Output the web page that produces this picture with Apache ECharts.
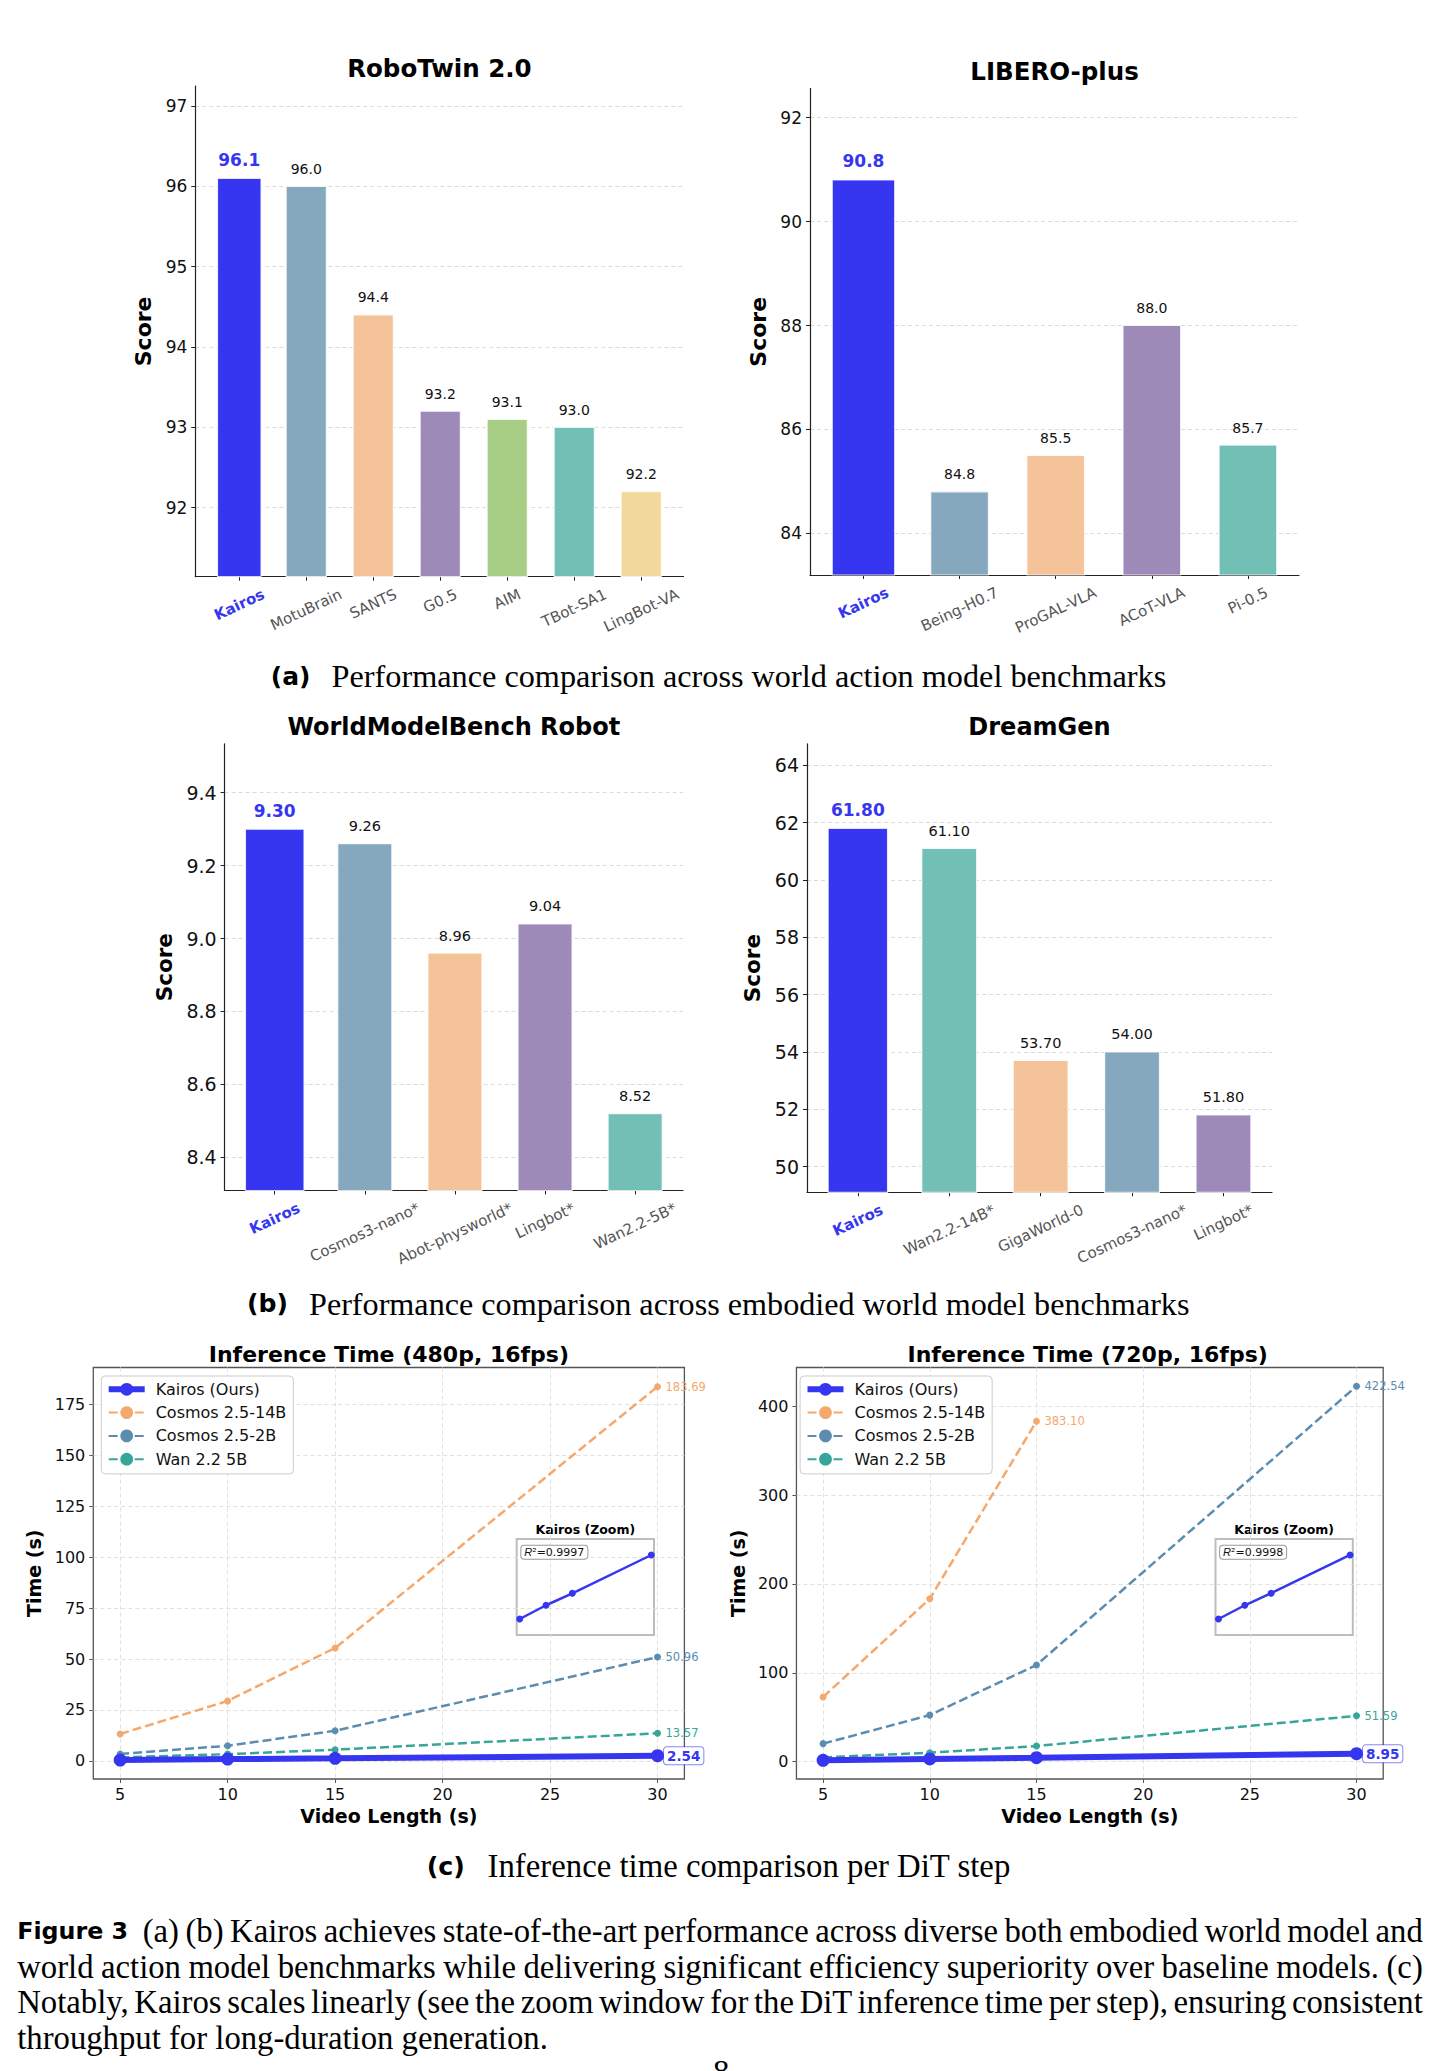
<!DOCTYPE html>
<html>
<head>
<meta charset="utf-8">
<script src="https://cdn.jsdelivr.net/npm/echarts@6/dist/echarts.min.js"></script>
<style>
  html, body { margin: 0; padding: 0; background: #fff; }
  body { width: 1440px; height: 2071px; position: relative; overflow: hidden; }
  .chart { position: absolute; }
  .cap { position: absolute; white-space: nowrap; line-height: 1; color: #000; }
  .lab { font-family: "DejaVu Sans", sans-serif; font-weight: bold; }
  .serif { font-family: "Liberation Serif", serif; }
</style>
</head>
<body>
<div id="robo" class="chart" style="left:0;top:0;width:720px;height:690px"></div>
<div id="libero" class="chart" style="left:720px;top:0;width:720px;height:690px"></div>
<div id="wmb" class="chart" style="left:0;top:690px;width:720px;height:600px"></div>
<div id="dream" class="chart" style="left:720px;top:690px;width:720px;height:600px"></div>
<div id="t480" class="chart" style="left:0;top:1330px;width:720px;height:510px"></div>
<div id="t720" class="chart" style="left:720px;top:1330px;width:720px;height:510px"></div>

<div class="cap lab" id="labA">(a)</div>
<div class="cap serif" id="txtA">Performance comparison across world action model benchmarks</div>
<div class="cap lab" id="labB">(b)</div>
<div class="cap serif" id="txtB">Performance comparison across embodied world model benchmarks</div>
<div class="cap lab" id="labC">(c)</div>
<div class="cap serif" id="txtC">Inference time comparison per DiT step</div>

<div class="cap lab" id="figLab">Figure 3</div>
<div class="cap serif" id="fig1">(a) (b) Kairos achieves state-of-the-art performance across diverse both embodied world model and</div>
<div class="cap serif" id="fig2">world action model benchmarks while delivering significant efficiency superiority over baseline models. (c)</div>
<div class="cap serif" id="fig3">Notably, Kairos scales linearly (see the zoom window for the DiT inference time per step), ensuring consistent</div>
<div class="cap serif" id="fig4">throughput for long-duration generation.</div>
<div class="cap serif" id="pageNo">8</div>

<script>
// ---- data ----
const roboCats = ['Kairos', 'MotuBrain', 'SANTS', 'G0.5', 'AIM', 'TBot-SA1', 'LingBot-VA'];
const roboScores = [96.1, 96.0, 94.4, 93.2, 93.1, 93.0, 92.2];
const roboTicks = [92, 93, 94, 95, 96, 97];

const liberoCats = ['Kairos', 'Being-H0.7', 'ProGAL-VLA', 'ACoT-VLA', 'Pi-0.5'];
const liberoScores = [90.8, 84.8, 85.5, 88.0, 85.7];
const liberoTicks = [84, 86, 88, 90, 92];

const wmbCats = ['Kairos', 'Cosmos3-nano*', 'Abot-physworld*', 'Lingbot*', 'Wan2.2-5B*'];
const wmbScores = [9.30, 9.26, 8.96, 9.04, 8.52];
const wmbTicks = [8.4, 8.6, 8.8, 9.0, 9.2, 9.4];

const dreamCats = ['Kairos', 'Wan2.2-14B*', 'GigaWorld-0', 'Cosmos3-nano*', 'Lingbot*'];
const dreamScores = [61.80, 61.10, 53.70, 54.00, 51.80];
const dreamTicks = [50, 52, 54, 56, 58, 60, 62, 64];

const videoLen = [5, 10, 15, 30];
const lenTicks = [5, 10, 15, 20, 25, 30];
const lineNames = ['Kairos (Ours)', 'Cosmos 2.5-14B', 'Cosmos 2.5-2B', 'Wan 2.2 5B'];

const kairos480 = [0.40, 0.86, 1.26, 2.54];
const cosmos14b480 = [13.2, 29.4, 55.4, 183.69];
const cosmos2b480 = [3.4, 7.4, 14.8, 50.96];
const wan480 = [1.7, 3.3, 5.5, 13.57];
const time480Ticks = [0, 25, 50, 75, 100, 125, 150, 175];

const kairos720 = [1.5, 3.1, 4.5, 8.95];
const cosmos14b720 = [72.8, 183.3, 383.10];
const cosmos2b720 = [20.3, 52.4, 108.8, 422.54];
const wan720 = [4.8, 10.1, 17.6, 51.59];
const time720Ticks = [0, 100, 200, 300, 400];

// ---- styles ----
const FONT = '"DejaVu Sans", sans-serif';
const BLUE = '#3636F0';
const STEEL = '#86A8BF', PEACH = '#F5C399', PURPLE = '#9D8AB8', GREEN = '#A8CE85', TEAL = '#72BFB5', SAND = '#F2D89B';
const L_ORANGE = '#F5A86D', L_STEEL = '#5B8DB1', L_TEAL = '#37A698';
const ROT = 25 * Math.PI / 180;
const measureCtx = document.createElement('canvas').getContext('2d');

function barChart(id, o) {
  const el = document.getElementById(id);
  const ox = el.offsetLeft, oy = el.offsetTop;
  const b = o.box, fs = o.fs;
  const n = o.cats.length;
  const span = n - 1 + 0.625;
  const xMin = -0.325 - 0.05 * span, xMax = n - 0.7 + 0.05 * span;
  const idx = o.cats.map((c, i) => i);
  const chart = echarts.init(el, null, { renderer: 'svg' });
  chart.setOption({
    animation: false,
    textStyle: { fontFamily: FONT },
    grid: { left: b.x0 - ox, top: b.y0 - oy, width: b.x1 - b.x0, height: b.y1 - b.y0 },
    graphic: [{
      type: 'text', x: (b.x0 + b.x1) / 2 - ox, y: o.titleY - oy,
      style: { text: o.title, font: 'bold ' + fs.title + 'px ' + FONT, fill: '#000', align: 'center', verticalAlign: 'middle' }
    }],
    xAxis: {
      type: 'value', min: xMin, max: xMax,
      axisLine: { show: true, onZero: false, lineStyle: { color: '#222', width: 1.2 } },
      axisTick: { show: true, customValues: idx, length: 4, lineStyle: { color: '#222' } },
      axisLabel: { show: false },
      splitLine: { show: false }
    },
    yAxis: {
      type: 'value', min: o.yMin, max: o.yMax,
      name: 'Score', nameLocation: 'middle', nameGap: o.nameGap,
      nameTextStyle: { fontWeight: 'bold', fontSize: fs.name, color: '#000' },
      axisLine: { show: true, onZero: false, lineStyle: { color: '#222', width: 1.2 } },
      axisTick: { show: true, customValues: o.ticks, length: 4, lineStyle: { color: '#222' } },
      axisLabel: { customValues: o.ticks, fontSize: fs.tick, color: '#111', margin: 8,
        formatter: v => v.toFixed(o.tickDec) },
      splitLine: { show: true, lineStyle: { type: [4, 3], color: '#dcdcdc', width: 1 } }
    },
    series: [{
      type: 'custom',
      data: o.scores.map((v, i) => [i, v]),
      encode: { x: 0, y: 1 },
      renderItem: function (params, api) {
        const i = api.value(0), v = api.value(1);
        const main = i === 0;
        const top = api.coord([i, v]);
        const base = api.coord([i, o.yMin]);
        const w = api.size([main ? 0.65 : 0.6, 0])[0];
        const name = o.cats[i];
        const catFont = (main ? 'bold ' : '') + '15px ' + FONT;
        measureCtx.font = catFont;
        const tw = measureCtx.measureText(name).width;
        const bh = tw * Math.sin(ROT) + 17 * Math.cos(ROT);
        return {
          type: 'group',
          children: [
            { type: 'rect', shape: { x: top[0] - w / 2, y: top[1], width: w, height: base[1] - top[1] },
              style: { fill: o.colors[i], stroke: 'rgba(255,255,255,0.8)', lineWidth: 1.2 } },
            { type: 'text', x: top[0], y: top[1] - (main ? 18.5 : 17.5),
              style: { text: v.toFixed(o.dec), font: main ? 'bold 17px ' + FONT : fs.val + 'px ' + FONT,
                fill: main ? BLUE : '#111', align: 'center', verticalAlign: 'middle' } },
            { type: 'text', x: base[0], y: base[1] + 9 + bh / 2, rotation: ROT,
              style: { text: name, font: catFont, fill: main ? BLUE : '#555', align: 'center', verticalAlign: 'middle' } }
          ]
        };
      }
    }]
  });
}

function lineSeries(name, ys, color, main) {
  const last = ys.length - 1;
  return {
    name: name, type: 'line', z: main ? 6 : 3,
    data: ys.map((y, k) => k === last ? { value: [videoLen[k], y], label: { show: true } } : [videoLen[k], y]),
    symbol: 'circle', symbolSize: main ? 13 : 7,
    lineStyle: main ? { width: 6, color: color } : { width: 2.5, type: [9, 4], color: color },
    itemStyle: { color: color },
    label: main
      ? { show: false, position: 'right', distance: 0, formatter: p => p.value[1].toFixed(2),
          color: BLUE, fontWeight: 'bold', fontSize: 13.5, backgroundColor: '#fff',
          borderColor: 'rgba(54,54,240,0.6)', borderWidth: 1, borderRadius: 3, padding: [2, 3, 1, 3] }
      : { show: false, position: 'right', distance: 4.5, formatter: p => p.value[1].toFixed(2),
          color: color, fontSize: 11.5 }
  };
}

function lineChart(id, o) {
  const el = document.getElementById(id);
  const ox = el.offsetLeft, oy = el.offsetTop;
  const b = o.box;
  const ins = { x0: b.x0 + 423.4, y0: b.y0 + 171.5, w: 137.3, h: 96 };
  const chart = echarts.init(el, null, { renderer: 'svg' });
  const gridLine = { show: true, lineStyle: { type: [4, 3], color: '#e0e0e0', width: 1 } };
  chart.setOption({
    animation: false,
    textStyle: { fontFamily: FONT },
    grid: [
      { left: b.x0 - ox, top: b.y0 - oy, width: b.x1 - b.x0, height: b.y1 - b.y0,
        show: true, borderColor: '#555', borderWidth: 1.3 },
      { left: ins.x0 - ox, top: ins.y0 - oy, width: ins.w, height: ins.h,
        show: true, backgroundColor: '#fff', borderColor: '#bdbdbd', borderWidth: 2 }
    ],
    graphic: [
      { type: 'text', x: (b.x0 + b.x1) / 2 - ox, y: o.titleY - oy,
        style: { text: o.title, font: 'bold 22px ' + FONT, fill: '#000', align: 'center', verticalAlign: 'middle' } },
      { type: 'text', x: ins.x0 + ins.w / 2 - ox, y: ins.y0 - 10 - oy,
        style: { text: 'Kairos (Zoom)', font: 'bold 12.5px ' + FONT, fill: '#000', align: 'center', verticalAlign: 'middle' } },
      { type: 'text', x: ins.x0 + 4.6 - ox, y: ins.y0 + 6.7 - oy, z: 20,
        style: { text: '{i|R}²=' + o.r2, rich: { i: { fontStyle: 'italic', fontSize: 11 } },
          fontSize: 11, fontFamily: FONT, fill: '#111', backgroundColor: '#fff', borderColor: '#999',
          borderWidth: 1, borderRadius: 3, padding: [1, 3, 1, 3] } }
    ],
    legend: {
      data: lineNames.map((nm, k) => k === 0 ? { name: nm, lineStyle: { width: 6 } } : nm),
      orient: 'vertical', left: b.x0 - ox + 8, top: b.y0 - oy + 8.5,
      itemWidth: 36, itemHeight: 16, itemGap: 7.3, padding: [5.3, 7, 6.7, 4.4],
      backgroundColor: '#fff', borderColor: '#ccc', borderWidth: 1, borderRadius: 4,
      textStyle: { fontSize: 16, color: '#111', lineHeight: 16, padding: [0, 0, 0, 6] }
    },
    xAxis: [
      { type: 'value', gridIndex: 0, min: 3.75, max: 31.25,
        name: 'Video Length (s)', nameLocation: 'middle', nameGap: 26,
        nameTextStyle: { fontWeight: 'bold', fontSize: 19, color: '#000' },
        axisLine: { show: false, onZero: false },
        axisTick: { show: true, customValues: lenTicks, length: 4, lineStyle: { color: '#555' } },
        axisLabel: { customValues: lenTicks, fontSize: 16, color: '#111', margin: 7 },
        splitLine: gridLine },
      { type: 'value', gridIndex: 1, min: 4.43, max: 30.51, show: false, splitLine: { show: false } }
    ],
    yAxis: [
      { type: 'value', gridIndex: 0, min: o.yMin, max: o.yMax,
        name: 'Time (s)', nameLocation: 'middle', nameGap: o.nameGap,
        nameTextStyle: { fontWeight: 'bold', fontSize: 19, color: '#000' },
        axisLine: { show: false, onZero: false },
        axisTick: { show: true, customValues: o.ticks, length: 4, lineStyle: { color: '#555' } },
        axisLabel: { customValues: o.ticks, fontSize: 16, color: '#111', margin: 8 },
        splitLine: gridLine },
      { type: 'value', gridIndex: 1, min: o.insetY[0], max: o.insetY[1], show: false, splitLine: { show: false } }
    ],
    series: [
      lineSeries(lineNames[1], o.cosmos14b, L_ORANGE, false),
      lineSeries(lineNames[2], o.cosmos2b, L_STEEL, false),
      lineSeries(lineNames[3], o.wan, L_TEAL, false),
      lineSeries(lineNames[0], o.kairos, BLUE, true),
      { name: 'Kairos (Zoom)', type: 'line', xAxisIndex: 1, yAxisIndex: 1, z: 10,
        data: o.kairos.map((y, k) => [videoLen[k], y]),
        symbol: 'circle', symbolSize: 7,
        lineStyle: { width: 2.5, color: BLUE }, itemStyle: { color: BLUE } }
    ]
  });
}

const fsRow1 = { title: 24.5, tick: 17, name: 22, val: 14 };
const fsRow2 = { title: 24, tick: 19, name: 21.5, val: 14.5 };

barChart('robo', { title: 'RoboTwin 2.0', titleY: 68.7, box: { x0: 195.3, x1: 683.5, y0: 86, y1: 576.7 },
  cats: roboCats, scores: roboScores, ticks: roboTicks, yMin: 91.14, yMax: 97.25, dec: 1, tickDec: 0,
  colors: [BLUE, STEEL, PEACH, PURPLE, GREEN, TEAL, SAND], nameGap: 36, fs: fsRow1 });
barChart('libero', { title: 'LIBERO-plus', titleY: 71.3, box: { x0: 810, x1: 1299, y0: 88.5, y1: 575 },
  cats: liberoCats, scores: liberoScores, ticks: liberoTicks, yMin: 83.2, yMax: 92.56, dec: 1, tickDec: 0,
  colors: [BLUE, STEEL, PEACH, PURPLE, TEAL], nameGap: 35, fs: fsRow1 });
barChart('wmb', { title: 'WorldModelBench Robot', titleY: 726.6, box: { x0: 224.6, x1: 683, y0: 743.8, y1: 1190.5 },
  cats: wmbCats, scores: wmbScores, ticks: wmbTicks, yMin: 8.309, yMax: 9.534, dec: 2, tickDec: 1,
  colors: [BLUE, STEEL, PEACH, PURPLE, TEAL], nameGap: 39, fs: fsRow2 });
barChart('dream', { title: 'DreamGen', titleY: 726.6, box: { x0: 807, x1: 1272, y0: 743.8, y1: 1192.3 },
  cats: dreamCats, scores: dreamScores, ticks: dreamTicks, yMin: 49.1, yMax: 64.75, dec: 2, tickDec: 0,
  colors: [BLUE, TEAL, PEACH, STEEL, PURPLE], nameGap: 34, fs: fsRow2 });

lineChart('t480', { title: 'Inference Time (480p, 16fps)', titleY: 1354,
  box: { x0: 93.3, x1: 684.4, y0: 1367.5, y1: 1779 }, yMin: -8.9, yMax: 193.1, ticks: time480Ticks, nameGap: 40,
  kairos: kairos480, cosmos14b: cosmos14b480, cosmos2b: cosmos2b480, wan: wan480,
  insetY: [-0.135, 3.075], r2: '0.9997' });
lineChart('t720', { title: 'Inference Time (720p, 16fps)', titleY: 1354,
  box: { x0: 792.1, x1: 1383.2, y0: 1367.5, y1: 1779 }, yMin: -19.5, yMax: 443.6, ticks: time720Ticks, nameGap: 41,
  kairos: kairos720, cosmos14b: cosmos14b720, cosmos2b: cosmos2b720, wan: wan720,
  insetY: [-0.36, 10.81], r2: '0.9998' });

// ---- captions ----
function fit(id, x, cy, width) {
  const el = document.getElementById(id);
  el.style.fontSize = '20px';
  const w = el.getBoundingClientRect().width;
  const fs = 20 * width / w;
  el.style.fontSize = fs + 'px';
  el.style.left = x + 'px';
  el.style.top = (cy - fs * 0.5) + 'px';
  return fs;
}
function justify(id, x, cy, fs, width) {
  const el = document.getElementById(id);
  el.style.fontSize = fs + 'px';
  el.style.left = x + 'px';
  el.style.top = (cy - fs * 0.5) + 'px';
  const w = el.getBoundingClientRect().width;
  const spaces = (el.textContent.match(/ /g) || []).length;
  if (width && spaces) el.style.wordSpacing = ((width - w) / spaces) + 'px';
}
fit('labA', 270.8, 676.4, 39.7);
fit('txtA', 331.6, 676.4, 835);
fit('labB', 247, 1304, 41);
fit('txtB', 309, 1304, 881);
fit('labC', 426.7, 1866.7, 38.3);
fit('txtC', 487.5, 1866.7, 523);
fit('figLab', 17.2, 1931.4, 110.9);
const capFs = fit('fig4', 17.2, 2038.4, 531);
justify('fig1', 142.7, 1931.4, capFs, 1280.1);
justify('fig2', 17.2, 1967, capFs, 1405.6);
justify('fig3', 17.2, 2002.7, capFs, 1405.6);
justify('pageNo', 713, 2072, capFs, 0);
</script>
</body>
</html>
